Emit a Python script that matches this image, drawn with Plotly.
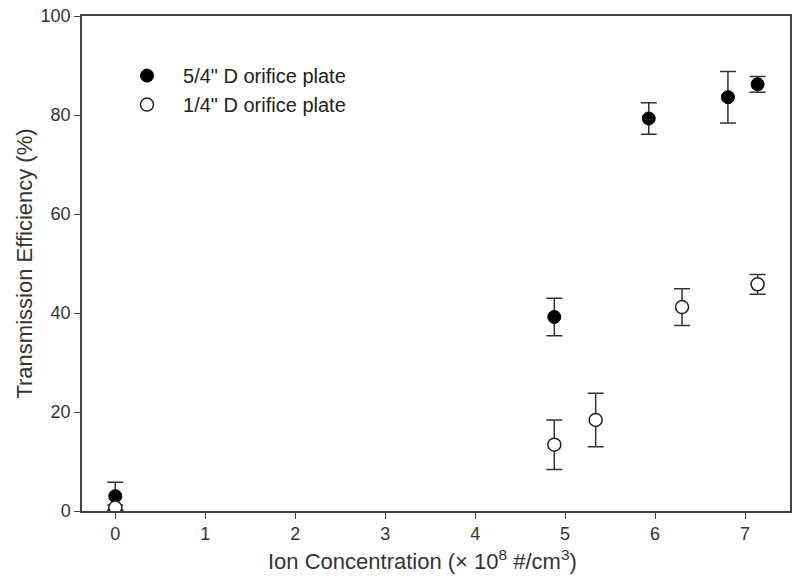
import plotly.graph_objects as go

# Data
x_large = [0.0, 4.88, 5.93, 6.81, 7.14]
y_large = [3.0, 39.2, 79.3, 83.6, 86.2]
err_large = [2.8, 3.8, 3.2, 5.2, 1.6]

x_small = [0.0, 4.88, 5.34, 6.30, 7.14]
y_small = [0.7, 13.4, 18.4, 41.2, 45.8]
err_small = [0.5, 5.0, 5.4, 3.7, 2.0]

x_ticks = [0, 1, 2, 3, 4, 5, 6, 7]
y_ticks = [0, 20, 40, 60, 80, 100]

font = "Liberation Sans, Arial, sans-serif"
err_style = dict(type="data", visible=True, color="#333333", thickness=1.5, width=8)

fig = go.Figure()

fig.add_trace(
    go.Scatter(
        x=x_large,
        y=y_large,
        mode="markers",
        name="5/4\" D orifice plate",
        marker=dict(symbol="circle", size=13, color="black", line=dict(color="black", width=1)),
        error_y=dict(array=err_large, **err_style),
    )
)

fig.add_trace(
    go.Scatter(
        x=x_small,
        y=y_small,
        mode="markers",
        name="1/4\" D orifice plate",
        marker=dict(symbol="circle", size=13, color="white", line=dict(color="#222222", width=1.5)),
        error_y=dict(array=err_small, **err_style),
    )
)

fig.update_layout(
    width=800,
    height=585,
    paper_bgcolor="white",
    plot_bgcolor="white",
    margin=dict(l=82, r=10, t=16, b=74, autoexpand=False),
    font=dict(family=font, size=18, color="#333333"),
    showlegend=True,
    legend=dict(
        x=0.041,
        y=0.919,
        xanchor="left",
        yanchor="top",
        bgcolor="rgba(0,0,0,0)",
        font=dict(size=20, color="#222222"),
        itemwidth=62,
        tracegroupgap=0,
    ),
)

# x title as an annotation, it sits a bit left of the plot centre in the original
fig.add_annotation(
    text="Ion Concentration (× 10<sup>8</sup> #/cm<sup>3</sup>)",
    xref="paper",
    yref="paper",
    x=0.4816,
    y=-0.099,
    xanchor="center",
    yanchor="middle",
    showarrow=False,
    font=dict(size=22, color="#333333"),
)

fig.update_xaxes(
    range=[-0.37, 7.5],
    tickvals=x_ticks,
    ticks="outside",
    ticklen=6,
    tickcolor="#444444",
    showline=True,
    linecolor="#444444",
    linewidth=1.5,
    mirror=True,
    showgrid=False,
    zeroline=False,
    automargin=False,
    tickfont=dict(size=18),
)

fig.update_yaxes(
    range=[0, 100],
    tickvals=y_ticks,
    ticks="outside",
    ticklen=6,
    tickcolor="#444444",
    showline=True,
    linecolor="#444444",
    linewidth=1.5,
    mirror=True,
    showgrid=False,
    zeroline=False,
    automargin=False,
    ticklabeloverflow="allow",
    tickfont=dict(size=18),
    title=dict(text="Transmission Efficiency (%)", font=dict(size=22), standoff=2),
)

# drop the default page margin so the figure fills the window exactly
fig.write_html(
    "out.html",
    config={"displayModeBar": False},
    post_script="document.body.style.margin = '0';",
)
